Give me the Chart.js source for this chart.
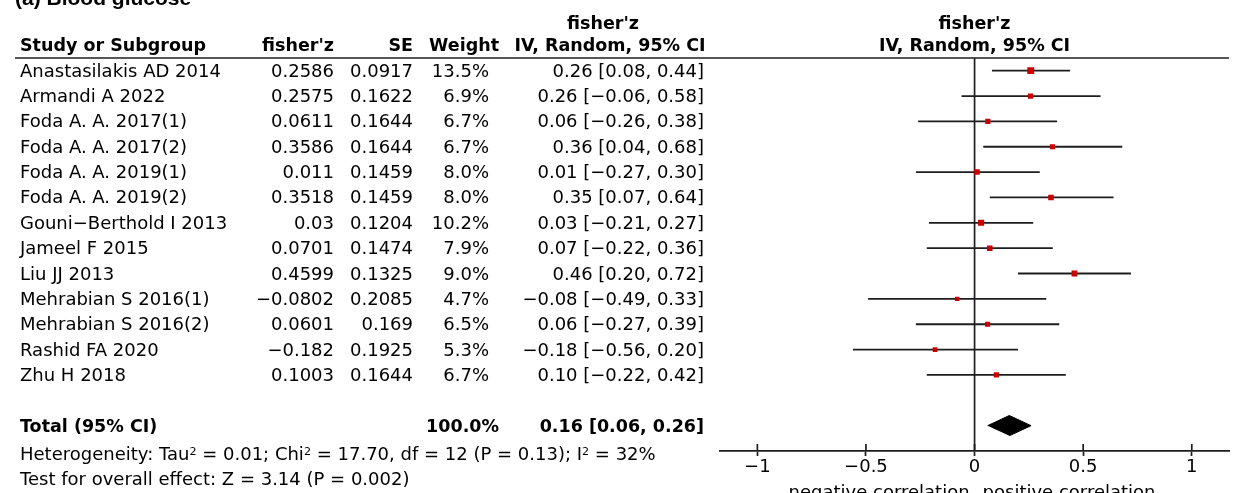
<!DOCTYPE html>
<html>
<head>
<meta charset="utf-8">
<script src="https://cdn.jsdelivr.net/npm/chart.js@4/dist/chart.umd.min.js"></script>
<style>
  html, body { margin: 0; padding: 0; background: #fff; }
  #wrap { position: relative; width: 1234px; height: 493px; overflow: hidden; }
  #plot { position: absolute; left: 0; top: 0; }
  .t { position: absolute; white-space: nowrap; font-family: "DejaVu Sans", sans-serif; font-size: 18px; line-height: 22px; color: #000; transform: translateY(-50%); }
  .b { font-weight: bold; font-size: 17.5px; }
  .c { transform: translate(-50%, -50%); }
  .sup { position: relative; top: -0.45em; font-size: 0.62em; }
  #title { position: absolute; left: 15px; top: -13px; font-family: "Liberation Sans", Arial, sans-serif; font-weight: bold; font-size: 21px; line-height: 21px; }
</style>
</head>
<body>
<div id="wrap">
  <canvas id="plot" width="1234" height="493"></canvas>
  <div id="title">(a) Blood glucose</div>
</div>
<script>
// Studies in the blood glucose subgroup
const studies = [
  "Anastasilakis AD 2014", "Armandi A 2022", "Foda A. A. 2017(1)", "Foda A. A. 2017(2)",
  "Foda A. A. 2019(1)", "Foda A. A. 2019(2)", "Gouni\u2212Berthold I 2013", "Jameel F 2015",
  "Liu JJ 2013", "Mehrabian S 2016(1)", "Mehrabian S 2016(2)", "Rashid FA 2020", "Zhu H 2018"
];
const fisherZ = [0.2586, 0.2575, 0.0611, 0.3586, 0.011, 0.3518, 0.03, 0.0701, 0.4599, -0.0802, 0.0601, -0.182, 0.1003];
const se      = [0.0917, 0.1622, 0.1644, 0.1644, 0.1459, 0.1459, 0.1204, 0.1474, 0.1325, 0.2085, 0.169, 0.1925, 0.1644];
const weight  = [13.5, 6.9, 6.7, 6.7, 8.0, 8.0, 10.2, 7.9, 9.0, 4.7, 6.5, 5.3, 6.7];
const ciLow   = [0.08, -0.06, -0.26, 0.04, -0.27, 0.07, -0.21, -0.22, 0.20, -0.49, -0.27, -0.56, -0.22];
const ciHigh  = [0.44, 0.58, 0.38, 0.68, 0.30, 0.64, 0.27, 0.36, 0.72, 0.33, 0.39, 0.20, 0.42];

// Pooled random-effects estimate
const totalEst = 0.16, totalLow = 0.06, totalHigh = 0.26, totalWeight = 100.0;
const totalRow = 14;

const xTicks = [-1, -0.5, 0, 0.5, 1];

const minus = s => String(s).replace(/-/g, "\u2212");
const f2 = v => minus(v.toFixed(2));

// One horizontal interval per study
const ciSets = studies.map((s, i) => ({
  label: s,
  data: [{ x: ciLow[i], y: i }, { x: ciHigh[i], y: i }],
  showLine: true,
  borderColor: "#1e1e1e",
  borderWidth: 1.8,
  pointRadius: 0,
  order: 2
}));

// Weight squares: area grows with the study weight
const squareSet = {
  label: "estimate",
  data: fisherZ.map((z, i) => ({ x: z, y: i })),
  pointStyle: "rect",
  backgroundColor: "#c80000",
  borderWidth: 0,
  pointRadius: weight.map(w => (1.6 * Math.sqrt(w) + 1.0) / Math.SQRT2),
  order: 0
};

// Summary diamond
const dH = 0.4;
const diamondSet = {
  label: "total",
  data: [
    { x: totalLow, y: totalRow }, { x: totalEst, y: totalRow - dH },
    { x: totalHigh, y: totalRow }, { x: totalEst, y: totalRow + dH }
  ],
  showLine: true,
  fill: "shape",
  backgroundColor: "#000",
  borderColor: "#000",
  borderWidth: 1,
  pointRadius: 0,
  order: 1
};

const guides = {
  id: "guides",
  beforeDatasetsDraw(chart) {
    const { ctx, chartArea: a, scales: { x } } = chart;
    ctx.save();
    ctx.strokeStyle = "#1e1e1e";
    ctx.lineWidth = 1.7;
    // header rule across table and plot
    ctx.beginPath();
    ctx.moveTo(15, a.top);
    ctx.lineTo(a.right, a.top);
    ctx.stroke();
    // line of no effect
    const x0 = x.getPixelForValue(0);
    ctx.beginPath();
    ctx.moveTo(x0, a.top);
    ctx.lineTo(x0, a.bottom);
    ctx.stroke();
    // upper halves of the axis ticks
    xTicks.forEach(v => {
      const px = x.getPixelForValue(v);
      ctx.beginPath();
      ctx.moveTo(px, a.bottom - 7);
      ctx.lineTo(px, a.bottom);
      ctx.stroke();
    });
    ctx.restore();
  }
};

const chart = new Chart(document.getElementById("plot"), {
  type: "scatter",
  data: { datasets: [squareSet, diamondSet, ...ciSets] },
  options: {
    responsive: false,
    animation: false,
    layout: { padding: { left: 720, right: 4, top: 58, bottom: 0 } },
    plugins: { legend: { display: false }, tooltip: { enabled: false } },
    scales: {
      x: {
        type: "linear",
        min: -1.172,
        max: 1.172,
        afterBuildTicks: s => { s.ticks = xTicks.map(v => ({ value: v })); },
        afterFit: s => { s.height = 42; },
        grid: { drawOnChartArea: false, drawTicks: true, tickLength: 5, tickColor: "#1e1e1e", tickWidth: 1.7 },
        border: { display: true, color: "#1e1e1e", width: 1.7 },
        ticks: {
          color: "#000",
          font: { family: "DejaVu Sans", size: 18 },
          padding: 1,
          maxRotation: 0,
          autoSkip: false,
          callback: v => (v === 0 ? "0" : minus(v))
        }
      },
      y: { type: "linear", min: -0.5, max: 15, reverse: true, display: false }
    }
  },
  plugins: [guides]
});

// Table text placed on the same rows as the plot
const wrap = document.getElementById("wrap");
function put(html, x, y, align, bold) {
  const d = document.createElement("div");
  d.className = "t" + (bold ? " b" : "") + (align === "center" ? " c" : "");
  d.innerHTML = html;
  d.style.top = y + "px";
  if (align === "right") d.style.right = (1234 - x) + "px";
  else d.style.left = x + "px";
  wrap.appendChild(d);
}

const yS = chart.scales.y, xS = chart.scales.x, areaTop = chart.chartArea.top;
const colZ = 334, colSE = 413, colW = 489, colWHead = 499, colCI = 704;
const h1 = areaTop - 35, h2 = areaTop - 13;

put("fisher'z", 603, h1, "center", true);
put("fisher'z", xS.getPixelForValue(0), h1, "center", true);
put("Study or Subgroup", 20, h2, "left", true);
put("fisher'z", colZ, h2, "right", true);
put("SE", colSE, h2, "right", true);
put("Weight", colWHead, h2, "right", true);
put("IV, Random, 95% CI", 610, h2, "center", true);
put("IV, Random, 95% CI", xS.getPixelForValue(0), h2, "center", true);

studies.forEach((s, i) => {
  const y = yS.getPixelForValue(i);
  put(s, 20, y, "left");
  put(minus(fisherZ[i]), colZ, y, "right");
  put(String(se[i]), colSE, y, "right");
  put(weight[i].toFixed(1) + "%", colW, y, "right");
  put(f2(fisherZ[i]) + " [" + f2(ciLow[i]) + ", " + f2(ciHigh[i]) + "]", colCI, y, "right");
});

const yT = yS.getPixelForValue(totalRow);
put("Total (95% CI)", 20, yT, "left", true);
put(totalWeight.toFixed(1) + "%", colWHead, yT, "right", true);
put(f2(totalEst) + " [" + f2(totalLow) + ", " + f2(totalHigh) + "]", colCI, yT, "right", true);

const sup = s => '<span class="sup">' + s + "</span>";
put("Heterogeneity: Tau" + sup("2") + " = 0.01; Chi" + sup("2") + " = 17.70, df = 12 (P = 0.13); I" + sup("2") + " = 32%", 20, yS.getPixelForValue(15.15), "left");
put("Test for overall effect: Z = 3.14 (P = 0.002)", 20, yS.getPixelForValue(16.1), "left");

const x0 = xS.getPixelForValue(0);
put("negative correlation", x0 - 5, 492, "right");
put("positive correlation", x0 + 8, 492, "left");
</script>
</body>
</html>
